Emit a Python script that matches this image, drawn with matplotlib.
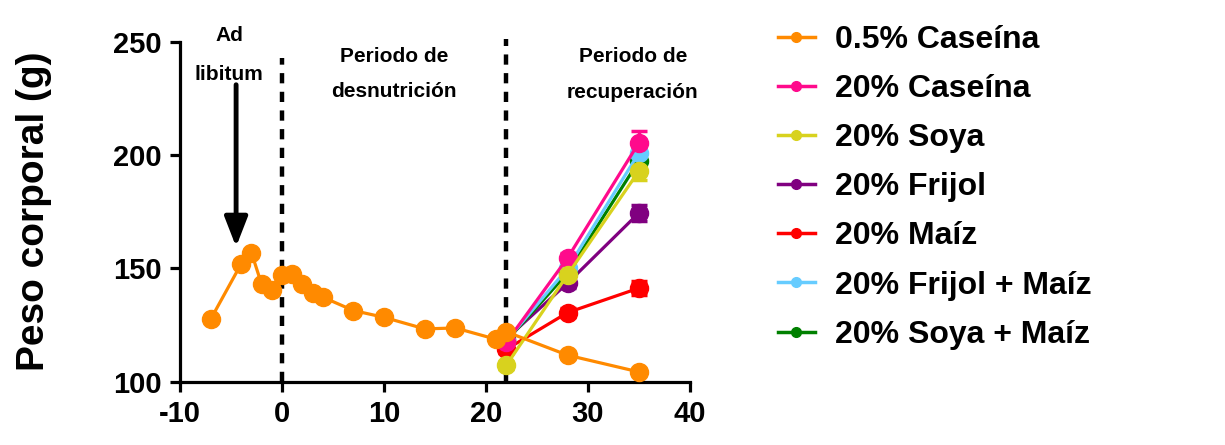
import numpy as np
import matplotlib.pyplot as plt
from matplotlib.lines import Line2D

plt.rcParams['font.family'] = ['Liberation Sans', 'DejaVu Sans']
plt.rcParams['font.weight'] = 'bold'
plt.rcParams['axes.unicode_minus'] = False

# ── data ─────────────────────────────────────────────────────────────────────
dias_cas05 = [-7, -4, -3, -2, -1, 0, 1, 2, 3, 4, 7, 10, 14, 17, 21, 22, 28, 35]
peso_cas05 = [127.5, 152, 157, 143, 140.5, 147, 147.5, 143, 139.3, 137.3,
              131.4, 128.4, 123.3, 123.7, 118.7, 122, 111.7, 104.3]

dias_rec = [22, 28, 35]
series_rec = {
    # label: (pesos, errores)
    '20% Frijol':        ([119, 143.5, 174.5], [1.5, 2, 3.5]),
    '20% Maíz':          ([114.3, 130.5, 141.3], [1.5, 2, 3]),
    '20% Soya + Maíz':   ([118, 148, 197.5], [1.5, 2, 4]),
    '20% Frijol + Maíz': ([118, 150, 201], [1.5, 2, 4]),
    '20% Caseína':       ([117.4, 154.6, 205.5], [1.5, 2, 5]),
    '20% Soya':          ([107.3, 147.2, 193], [1.5, 2, 4]),
}

colores = {
    '0.5% Caseína': '#FF8A00',
    '20% Caseína': '#FF0A8C',
    '20% Soya': '#D8D21E',
    '20% Frijol': '#800080',
    '20% Maíz': '#FF0000',
    '20% Frijol + Maíz': '#66CCFF',
    '20% Soya + Maíz': '#008000',
}
orden_leyenda = ['0.5% Caseína', '20% Caseína', '20% Soya', '20% Frijol',
                 '20% Maíz', '20% Frijol + Maíz', '20% Soya + Maíz']

# ── figure ───────────────────────────────────────────────────────────────────
fig = plt.figure(figsize=(12.25, 4.45), dpi=100)
ax = fig.add_axes([180/1225, 1 - 381.7/445, 510/1225, 340/445])

for lbl, (pesos, errs) in series_rec.items():
    ax.errorbar(dias_rec, pesos, yerr=errs, color=colores[lbl], lw=2.3,
                marker='o', ms=13, capsize=6, elinewidth=2.5, capthick=2.5,
                zorder=3)

ax.plot(dias_cas05, peso_cas05, color=colores['0.5% Caseína'], lw=2.3,
        marker='o', ms=13, zorder=4)

# dashed separators
ax.plot([0, 0], [100, 243], color='black', lw=3.2, dashes=(2.3, 1.9),
        zorder=2, clip_on=False)
ax.plot([22, 22], [100, 251], color='black', lw=3.2, dashes=(2.3, 1.9),
        zorder=2, clip_on=False)

# arrow Ad libitum
ax.annotate('', xy=(-4.5, 159.5), xytext=(-4.5, 231),
            arrowprops=dict(arrowstyle='-|>,head_length=0.9,head_width=0.35',
                            mutation_scale=20, color='black', lw=3.5,
                            shrinkA=0, shrinkB=0))

txt = dict(ha='center', va='baseline', fontsize=15, fontweight='bold',
           clip_on=False)
ax.text(-5.2, 250.3, 'Ad', **txt)
ax.text(-5.2, 233.1, 'libitum', **txt)
ax.text(11.0, 241.2, 'Periodo de', **txt)
ax.text(11.0, 225.7, 'desnutrición', **txt)
ax.text(34.4, 241.2, 'Periodo de', **txt)
ax.text(34.4, 225.1, 'recuperación', **txt)

ax.set_xlim(-10, 40)
ax.set_ylim(100, 250)
ax.set_xticks([-10, 0, 10, 20, 30, 40])
ax.set_yticks([100, 150, 200, 250])
for s in ['top', 'right']:
    ax.spines[s].set_visible(False)
for s in ['left', 'bottom']:
    ax.spines[s].set_linewidth(2.3)
ax.tick_params(width=2.3, length=7, labelsize=21, pad=6)
for lab in ax.get_xticklabels() + ax.get_yticklabels():
    lab.set_fontweight('bold')
ax.set_ylabel('Peso corporal (g)', fontsize=28, fontweight='bold')
ax.yaxis.set_label_coords(-128/510, 0.5)

handles = [Line2D([], [], color=colores[l], lw=2.5, marker='o', ms=7)
           for l in orden_leyenda]
fig.legend(handles, orden_leyenda, loc='upper left',
           bbox_to_anchor=(765/1225, 1 - 12/445), frameon=False,
           prop=dict(size=23, weight='bold'), handlelength=1.15,
           handletextpad=0.65, labelspacing=0.6, borderaxespad=0)

fig.savefig('out.png', dpi=100)
